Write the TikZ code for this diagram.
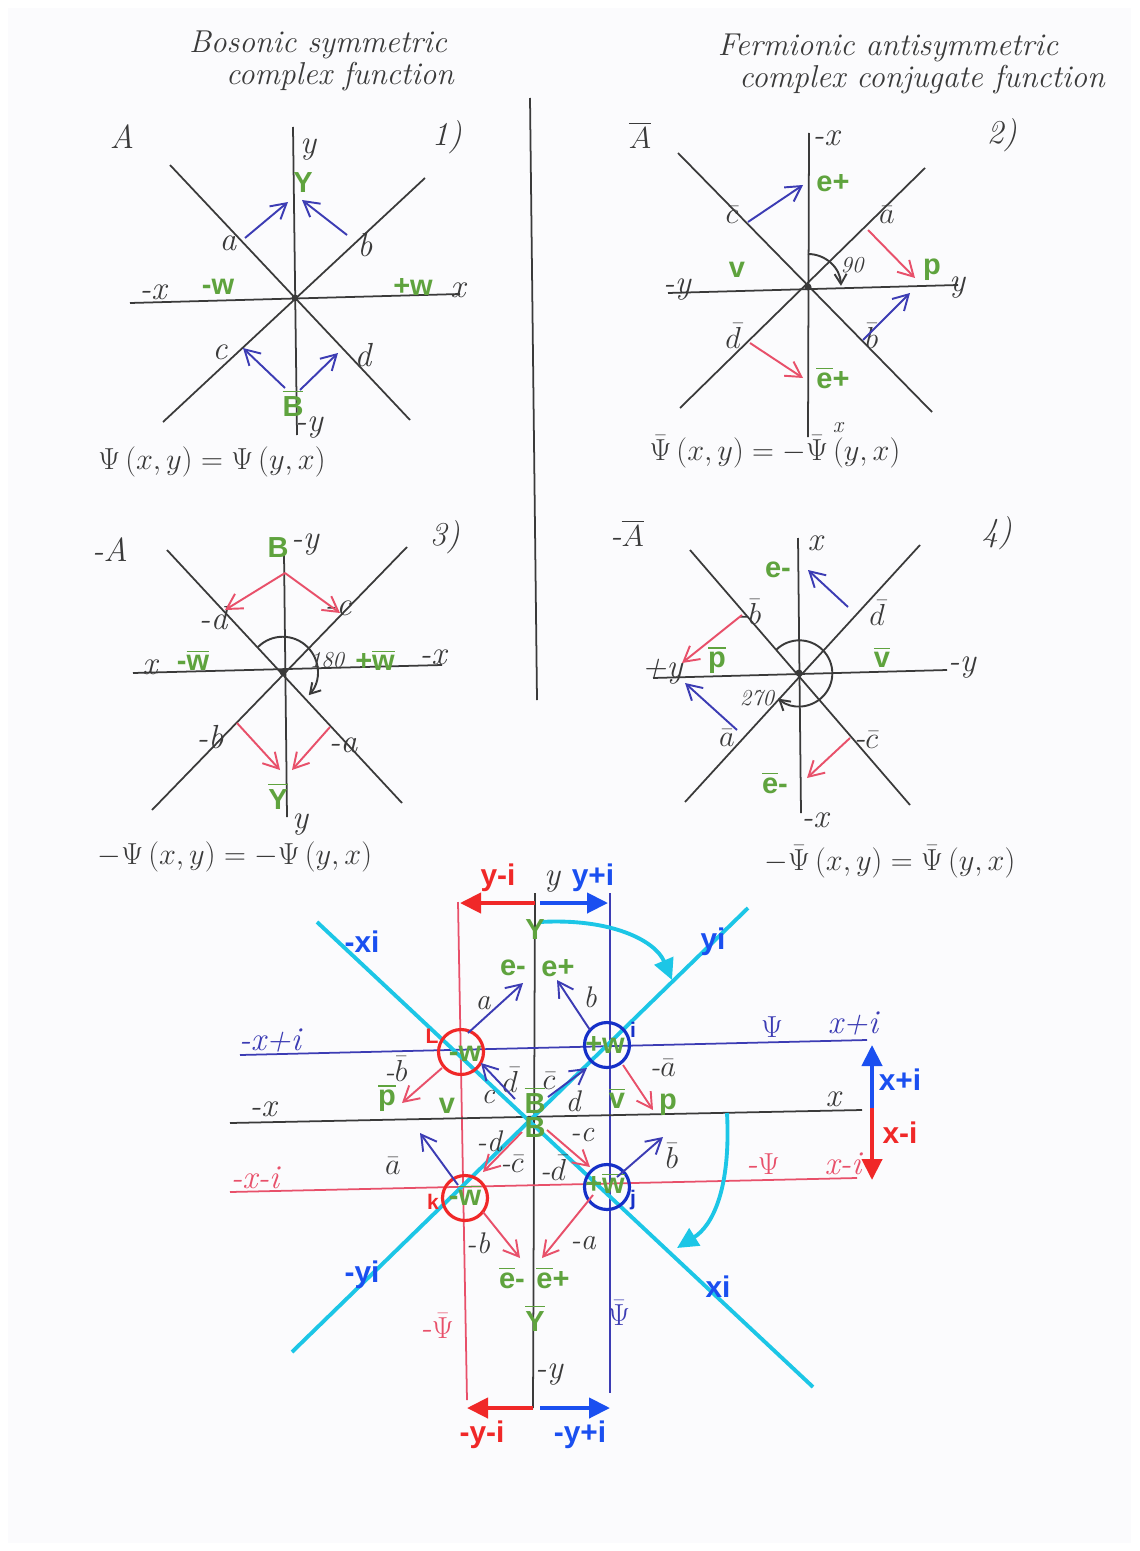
\documentclass[tikz,border=0pt]{standalone}
\usepackage{fontspec}
\usepackage{amsmath}
\usepackage{xcolor}
\usepackage{tikz}
\usetikzlibrary{positioning,arrows.meta}
\newfontfamily\labelfont{Liberation Sans}
\definecolor{Paper}{HTML}{FBFBFD}
\definecolor{InkGray}{HTML}{3A3A3A}
\definecolor{ArrowBlue}{HTML}{3C3CB4}
\definecolor{ArrowRed}{HTML}{E8506A}
\definecolor{LabelGreen}{HTML}{5FA33E}
\definecolor{CyanLine}{HTML}{1CC6E6}
\definecolor{TextBlue}{HTML}{1A4FF0}
\definecolor{TextRed}{HTML}{F02828}
\definecolor{RingBlue}{HTML}{1530C8}
\newcommand{\ob}[1]{$\overline{\mbox{#1}}$}

\begin{document}
\begin{tikzpicture}[
    x=0.02cm, y=-0.02cm,
    ax/.style={draw=InkGray, line width=1pt},
    bline/.style={draw=ArrowBlue, line width=1pt},
    rline/.style={draw=ArrowRed, line width=1pt},
    cline/.style={draw=CyanLine, line width=2.2pt},
    barr/.style={draw=ArrowBlue, line width=1.1pt, -{Straight Barb[length=3mm,width=3.4mm]}},
    rarr/.style={draw=ArrowRed, line width=1.1pt, -{Straight Barb[length=3mm,width=3.4mm]}},
    angarr/.style={draw=InkGray, line width=1.1pt, -{Straight Barb[length=2mm,width=2.4mm]}},
    fatred/.style={draw=TextRed, line width=2.4pt, -{Triangle[length=4.2mm,width=4mm]}},
    fatblue/.style={draw=TextBlue, line width=2.4pt, -{Triangle[length=4.2mm,width=4mm]}},
    cyarr/.style={draw=CyanLine, line width=2.2pt, -{Triangle[length=4.2mm,width=4mm]}},
    ring/.style={line width=1.8pt, minimum size=0.9cm, circle, inner sep=0pt},
    hand/.style={font=\fontsize{19}{21}\selectfont\itshape, text=InkGray, inner sep=1pt},
    handc/.style={font=\fontsize{17}{19}\selectfont\itshape, text=InkGray, inner sep=0.5pt},
    head/.style={font=\fontsize{18}{20}\selectfont\itshape, text=InkGray},
    small/.style={font=\fontsize{13}{15}\selectfont\itshape, text=InkGray, inner sep=1pt},
    grn/.style={font=\labelfont\bfseries\fontsize{16.5}{18}\selectfont, text=LabelGreen, inner sep=1pt},
    tblue/.style={font=\labelfont\bfseries\fontsize{17}{19}\selectfont, text=TextBlue, inner sep=1pt},
    tred/.style={font=\labelfont\bfseries\fontsize{17}{19}\selectfont, text=TextRed, inner sep=1pt},
    letter/.style={font=\labelfont\bfseries\fontsize{12}{14}\selectfont, inner sep=1pt}
  ]
    % paper
    \fill[white] (0,0) rectangle (1139,1551);
    \fill[Paper] (8,8) rectangle (1131,1543);
    \useasboundingbox (0,0) rectangle (1139,1551);

    % headings
    \node[head] (hbos1) at (318,45) {Bosonic symmetric};
    \node[head] (hbos2) at (340,77) {complex function};
    \node[head] (hfer1) at (888,48) {Fermionic antisymmetric};
    \node[head] (hfer2) at (922,80) {complex conjugate function};
    \draw[ax] (530,98) -- (537,700);

    % 1) A
    \draw[ax] (130,303) -- (460,294);
    \draw[ax] (293,127) -- (297,435);
    \draw[ax] (170,165) -- (410,420);
    \draw[ax] (425,178) -- (163,422);
    \fill[InkGray] (295,298) circle (0.07cm);
    \node[hand] (p1A) at (122,137) {A};
    \node[hand] (p1n) at (447,137) {1)};
    \node[hand] (p1y) at (308,150) {y};
    \node[grn] (p1Y) at (303,183) {Y};
    \node[hand] (p1a) at (228,243) {a};
    \node[hand] (p1b) at (365,245) {b};
    \node[hand] (p1mx) at (153,292) {-x};
    \node[grn] (p1mw) at (218,287) {-w};
    \node[grn] (p1pw) at (413,287) {+w};
    \node[hand] (p1x) at (458,290) {x};
    \node[hand] (p1c) at (220,352) {c};
    \node[hand] (p1d) at (363,355) {d};
    \node[grn] (p1B) at (293,403) {\ob{B}};
    \node[hand] (p1my) at (309,428) {-y};
    \node[hand] (p1eq) at (212,462) {$\Psi\,(x,y) = \Psi\,(y,x)$};
    \draw[barr] (245,238) -- (288,202);
    \draw[barr] (347,235) -- (302,200);
    \draw[barr] (285,388) -- (243,348);
    \draw[barr] (300,390) -- (338,353);

    % 2) A bar
    \draw[ax] (668,293) -- (958,285);
    \draw[ax] (809,133) -- (808,437);
    \draw[ax] (678,153) -- (932,412);
    \draw[ax] (925,168) -- (680,408);
    \fill[InkGray] (808,287) circle (0.07cm);
    \draw[angarr] (808,254) arc[start angle=90, end angle=2, radius=0.66cm];
    \node[hand] (p2A) at (640,135) {$\overline{A}$};
    \node[hand] (p2mx) at (826,138) {-x};
    \node[hand] (p2n) at (1002,135) {2)};
    \node[grn] (p2ep) at (833,183) {e+};
    \node[hand] (p2c) at (732,215) {$\bar c$};
    \node[hand] (p2a) at (887,215) {$\bar a$};
    \node[small] (p2ang) at (852,265) {90};
    \node[grn] (p2p) at (932,270) {p};
    \node[hand] (p2y) at (957,288) {y};
    \node[grn] (p2v) at (737,270) {v};
    \node[hand] (p2my) at (677,290) {-y};
    \node[hand] (p2d) at (733,336) {$\bar d$};
    \node[hand] (p2b) at (872,336) {$\bar b$};
    \node[grn] (p2eb) at (833,378) {\ob{e}+};
    \node[small] (p2x) at (838,428) {x};
    \node[hand] (p2eq) at (775,452) {$\bar\Psi\,(x,y) = -\bar\Psi\,(y,x)$};
    \draw[barr] (748,222) -- (803,185);
    \draw[rarr] (868,230) -- (915,278);
    \draw[rarr] (750,343) -- (803,378);
    \draw[barr] (863,340) -- (910,293);

    % 3) -A
    \draw[ax] (133,673) -- (442,665);
    \draw[ax] (284,553) -- (287,817);
    \draw[ax] (167,550) -- (402,803);
    \draw[ax] (407,547) -- (152,810);
    \fill[InkGray] (283,672) circle (0.07cm);
    \draw[angarr] (258,647) arc[start angle=135, end angle=-42, radius=0.7cm];
    \node[hand] (p3A) at (110,550) {-A};
    \node[grn] (p3B) at (278,548) {B};
    \node[hand] (p3my) at (305,545) {-y};
    \node[hand] (p3n) at (445,537) {3)};
    \node[hand] (p3d) at (213,618) {-d};
    \node[hand] (p3c) at (338,608) {-c};
    \node[hand] (p3x) at (150,667) {x};
    \node[grn] (p3mw) at (193,660) {-\ob{w}};
    \node[small] (p3ang) at (327,660) {180};
    \node[grn] (p3pw) at (375,660) {+\ob{w}};
    \node[hand] (p3mx) at (433,657) {-x};
    \node[hand] (p3b) at (210,737) {-b};
    \node[hand] (p3a) at (343,745) {-a};
    \node[grn] (p3Y) at (278,796) {\ob{Y}};
    \node[hand] (p3y) at (300,825) {y};
    \node[hand] (p3eq) at (235,857) {$-\Psi\,(x,y) = -\Psi\,(y,x)$};
    \draw[rarr] (285,573) -- (225,610);
    \draw[rarr] (285,573) -- (340,613);
    \draw[rarr] (237,723) -- (280,770);
    \draw[rarr] (330,727) -- (292,770);

    % 4) -A bar
    \draw[ax] (653,678) -- (947,670);
    \draw[ax] (798,538) -- (801,813);
    \draw[ax] (690,550) -- (910,805);
    \draw[ax] (920,545) -- (685,802);
    \fill[InkGray] (799,673) circle (0.07cm);
    \draw[angarr] (776,650) arc[start angle=135, end angle=-130, radius=0.66cm];
    \node[hand] (p4A) at (627,533) {-$\overline{A}$};
    \node[hand] (p4n) at (997,533) {4)};
    \node[hand] (p4x) at (815,543) {x};
    \node[grn] (p4em) at (778,570) {e-};
    \node[hand] (p4d) at (877,613) {$\bar d$};
    \node[hand] (p4b) at (749,612) {-$\bar b$};
    \node[grn] (p4p) at (717,660) {\ob{p}};
    \node[grn] (p4v) at (882,657) {\ob{v}};
    \node[hand] (p4py) at (662,672) {+y};
    \node[hand] (p4my) at (962,668) {-y};
    \node[small] (p4ang) at (757,698) {270};
    \node[hand] (p4a) at (727,738) {$\bar a$};
    \node[hand] (p4c) at (866,740) {-$\bar c$};
    \node[grn] (p4eb) at (775,783) {\ob{e}-};
    \node[hand] (p4mx) at (815,820) {-x};
    \node[hand] (p4eq) at (890,862) {$-\bar\Psi\,(x,y) = \bar\Psi\,(y,x)$};
    \draw[barr] (848,607) -- (808,570);
    \draw[rarr] (742,615) -- (682,663);
    \draw[barr] (737,730) -- (685,683);
    \draw[rarr] (850,738) -- (807,778);

    % combined lattice
    \draw[ax] (535,893) -- (533,1408);
    \draw[rline] (458,902) -- (467,1400);
    \draw[bline] (610,893) -- (610,1393);
    \draw[bline] (240,1055) -- (867,1040);
    \draw[ax] (230,1123) -- (862,1110);
    \draw[rline] (230,1192) -- (857,1178);
    \draw[cline] (317,922) -- (813,1387);
    \draw[cline] (748,908) -- (292,1352);
    \draw[cyarr] (540,922) .. controls (610,918) and (655,940) .. (672,980);
    \draw[cyarr] (727,1113) .. controls (731,1190) and (712,1226) .. (677,1248);

    \draw[fatred] (535,903) -- (460,903);
    \draw[fatblue] (540,903) -- (608,903);
    \draw[fatred] (533,1408) -- (467,1408);
    \draw[fatblue] (540,1408) -- (610,1408);
    \draw[fatblue] (872,1108) -- (872,1045);
    \draw[fatred] (872,1108) -- (872,1180);

    \node[tred] (lyMi) at (498,878) {y-i};
    \node[tblue] (lyPi) at (593,878) {y+i};
    \node[tred] (lmyMi) at (482,1435) {-y-i};
    \node[tblue] (lmyPi) at (580,1435) {-y+i};
    \node[tblue] (lxPi) at (900,1080) {x+i};
    \node[tred] (lxMi) at (900,1133) {x-i};
    \node[tblue] (lmxi) at (362,942) {-xi};
    \node[tblue] (lyi) at (713,942) {yi};
    \node[tblue] (lmyi) at (362,1275) {-yi};
    \node[tblue] (lxi) at (718,1287) {xi};

    \node[hand] (cy) at (552,882) {y};
    \node[hand, text=ArrowBlue] (cmxPi) at (270,1040) {-x+i};
    \node[hand, text=ArrowBlue] (cPsi) at (772,1027) {$\Psi$};
    \node[hand, text=ArrowBlue] (cxPi) at (853,1023) {x+i};
    \node[hand] (cmx) at (263,1109) {-x};
    \node[hand] (cx) at (833,1099) {x};
    \node[hand, text=ArrowRed] (cmxMi) at (255,1178) {-x-i};
    \node[hand, text=ArrowRed] (cmPsi) at (763,1164) {-$\Psi$};
    \node[hand, text=ArrowRed] (cxMi) at (843,1164) {x-i};
    \node[hand, text=ArrowRed] (cmPsib) at (437,1326) {-$\bar\Psi$};
    \node[hand, text=ArrowBlue] (cPsib) at (619,1313) {$\bar\Psi$};
    \node[hand] (cmy) at (549,1375) {-y};

    \node[ring, draw=TextRed] (rL) at (461,1052) {};
    \node[ring, draw=RingBlue] (ri) at (607,1045) {};
    \node[ring, draw=TextRed] (rk) at (465,1198) {};
    \node[ring, draw=RingBlue] (rj) at (607,1187) {};
    \node[letter, text=TextRed] (nL) at (432,1036) {L};
    \node[letter, text=RingBlue] (ni) at (633,1030) {i};
    \node[letter, text=TextRed] (nk) at (433,1202) {k};
    \node[letter, text=RingBlue] (nj) at (633,1200) {j};
    \node[grn] (gLw) at (465,1054) {-w};
    \node[grn] (giw) at (605,1045) {+w};
    \node[grn] (gkw) at (465,1195) {-\ob{w}};
    \node[grn] (gjw) at (605,1183) {+\ob{w}};

    \node[grn] (gY) at (535,930) {Y};
    \node[grn] (gem) at (513,968) {e-};
    \node[grn] (gep) at (558,968) {e+};
    \node[grn] (gpb) at (387,1098) {\ob{p}};
    \node[grn] (gv) at (447,1106) {v};
    \node[grn] (gBb) at (535,1100) {\ob{B}};
    \node[grn] (gB) at (535,1128) {B};
    \node[grn] (gvb) at (617,1098) {\ob{v}};
    \node[grn] (gp) at (668,1105) {p};
    \node[grn] (gemb) at (512,1278) {\ob{e}-};
    \node[grn] (gepb) at (553,1278) {\ob{e}+};
    \node[grn] (gYb) at (535,1318) {\ob{Y}};

    \node[handc] (ca) at (483,1003) {a};
    \node[handc] (cb) at (590,997) {b};
    \node[handc] (cmb) at (396,1069) {-$\bar b$};
    \node[handc] (cc) at (488,1097) {c};
    \node[handc] (cdb) at (510,1080) {$\bar d$};
    \node[handc] (ccb) at (549,1081) {$\bar c$};
    \node[handc] (cd) at (573,1101) {d};
    \node[handc] (cma) at (663,1068) {-$\bar a$};
    \node[handc] (cmd) at (489,1141) {-d};
    \node[handc] (cmcb) at (512,1164) {-$\bar c$};
    \node[handc] (cmdb) at (553,1168) {-$\bar d$};
    \node[handc] (cmc) at (582,1135) {-c};
    \node[handc] (cab) at (393,1166) {$\bar a$};
    \node[handc] (cbb) at (672,1156) {$\bar b$};
    \node[handc] (cmbb) at (478,1243) {-b};
    \node[handc] (cmab) at (583,1243) {-a};

    \draw[barr] (468,1033) -- (523,983);
    \draw[barr] (590,1030) -- (557,980);
    \draw[barr] (515,1099) -- (481,1063);
    \draw[barr] (548,1097) -- (587,1068);
    \draw[rarr] (442,1068) -- (402,1103);
    \draw[rarr] (623,1065) -- (653,1110);
    \draw[barr] (458,1185) -- (420,1133);
    \draw[barr] (617,1177) -- (663,1137);
    \draw[rarr] (547,1130) -- (590,1167);
    \draw[rarr] (522,1132) -- (483,1172);
    \draw[rarr] (483,1212) -- (520,1258);
    \draw[rarr] (593,1195) -- (542,1258);
  \end{tikzpicture}
\end{document}
